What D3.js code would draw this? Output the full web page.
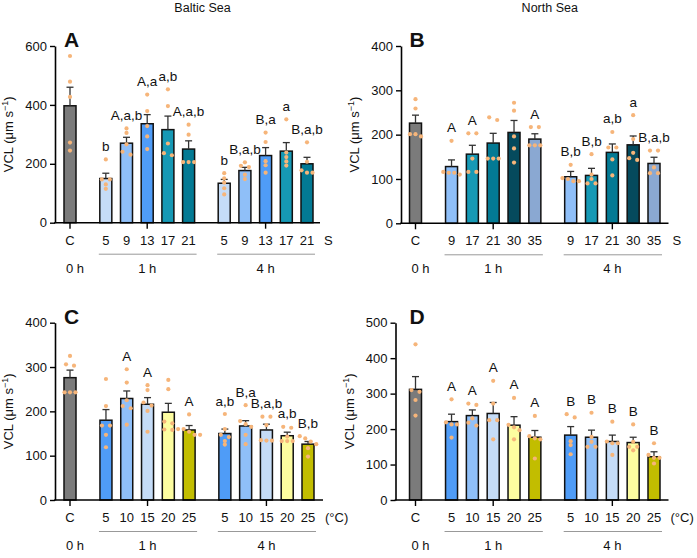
<!DOCTYPE html>
<html>
<head>
<meta charset="utf-8">
<script src="https://cdn.jsdelivr.net/npm/d3@7"></script>
<style>
  body { margin: 0; background: #fff; }
  svg { font-family: "Liberation Sans", Arial, sans-serif; }
</style>
</head>
<body>
<svg id="chart"></svg>
<script>
const width = 697, height = 558;

// categories
const catsBaltic = ["C", "5", "9", "13", "17", "21", "5", "9", "13", "17", "21"];
const catsNorth = ["C", "9", "17", "21", "30", "35", "9", "17", "21", "30", "35"];
const catsTemp = ["C", "5", "10", "15", "20", "25", "5", "10", "15", "20", "25"];
const groupLabels = ["0 h", "1 h", "4 h"];

// A - Baltic Sea, salinity
const meanA = [397, 150, 270, 336, 316, 250, 134, 177, 228, 243, 200];
const semA = [63, 18, 20, 31, 46, 28, 13, 11, 27, 29, 22];
const ptsA = [
  [566, 479, 427, 272, 245], [215, 147, 147, 130, 115], [320, 305, 266, 241, 231],
  [435, 379, 328, 293, 250], [453, 396, 269, 236, 229], [333, 299, 206, 206, 206],
  [168, 151, 136, 117, 96], [205, 193, 189, 163, 148], [306, 274, 209, 195, 170],
  [351, 238, 223, 208, 194], [273, 207, 178, 170, 170]
];
const letA = ["", "b", "A,a,b", "A,a", "a,b", "A,a,b", "b", "B,a,b", "B,a", "a", "B,a,b"];

// B - North Sea, salinity
const meanB = [226, 128, 156, 181, 205, 190, 105, 108, 160, 177, 135];
const semB = [18, 15, 20, 22, 27, 12, 12, 16, 19, 20, 14];
const ptsB = [
  [280, 259, 201, 201, 196], [186, 116, 114, 114, 110], [203, 203, 146, 116, 116],
  [239, 233, 146, 146, 146], [272, 254, 196, 169, 137], [217, 217, 176, 176, 176],
  [132, 102, 100, 95, 95], [156, 110, 100, 90, 90], [206, 171, 171, 144, 108],
  [244, 190, 159, 147, 143], [164, 164, 126, 113, 113]
];
const letB = ["", "A", "A", "", "", "A", "B,b", "B,b", "a,b", "a", "B,a,b"];

// C - Baltic Sea, temperature
const meanC = [276, 180, 229, 216, 198, 158, 150, 167, 158, 145, 126];
const semC = [17, 24, 17, 15, 20, 10, 10, 12, 13, 8, 6];
const ptsC = [
  [325, 306, 303, 243, 243, 243], [273, 212, 168, 168, 147, 119], [295, 265, 225, 212, 207, 170],
  [259, 248, 220, 213, 201, 154], [271, 250, 177, 173, 159, 158], [193, 160, 160, 154, 147, 147],
  [194, 160, 147, 142, 133, 125], [214, 178, 171, 165, 147, 126], [188, 188, 169, 135, 134, 134],
  [165, 163, 143, 133, 133, 133], [144, 139, 132, 126, 117, 98]
];
const letC = ["", "", "A", "A", "", "A", "a,b", "B,a", "B,a,b", "a,b", "B,b"];

// D - North Sea, temperature
const meanD = [312, 221, 238, 244, 211, 177, 183, 177, 165, 162, 122];
const semD = [36, 21, 16, 31, 24, 19, 24, 20, 18, 15, 14];
const ptsD = [
  [439, 310, 305, 282, 238], [284, 219, 213, 213, 176], [272, 268, 230, 218, 210],
  [336, 272, 225, 225, 171], [288, 212, 205, 197, 171], [237, 180, 174, 171, 117],
  [242, 233, 166, 155, 129], [246, 178, 164, 150, 150], [221, 165, 160, 160, 127],
  [213, 164, 150, 150, 140], [160, 127, 119, 119, 103]
];
const letD = ["", "A", "A", "A", "A", "A", "B", "B", "B", "B", "B"];

// bar colours
const grey = "#7b7b7b";
const colorsBaltic = [grey, "#c5dcf7", "#8fbff8", "#4f9cf7", "#1699b5", "#037a94",
  "#c5dcf7", "#8fbff8", "#4f9cf7", "#1699b5", "#037a94"];
const colorsNorth = [grey, "#8fbff8", "#1699b5", "#037a94", "#054a5d", "#8aa8d2",
  "#8fbff8", "#1699b5", "#037a94", "#054a5d", "#8aa8d2"];
const colorsTemp = [grey, "#4f9cf7", "#8fbff8", "#c5dcf7", "#fdfda0", "#c2bd00",
  "#4f9cf7", "#8fbff8", "#c5dcf7", "#fdfda0", "#c2bd00"];
const dotColor = "#f6b57a";

const panels = [
  { id: "A", cats: catsBaltic, colors: colorsBaltic, mean: meanA, sem: semA, pts: ptsA, letters: letA,
    max: 600, step: 200, unit: "S", title: "Baltic Sea", axisX: 55, x0: 70, x1: 307, xEnd: 320, yTop: 46, yBot: 222.7 },
  { id: "B", cats: catsNorth, colors: colorsNorth, mean: meanB, sem: semB, pts: ptsB, letters: letB,
    max: 400, step: 100, unit: "S", title: "North Sea", axisX: 401, x0: 415.5, x1: 654, xEnd: 668.5, yTop: 46, yBot: 223.3 },
  { id: "C", cats: catsTemp, colors: colorsTemp, mean: meanC, sem: semC, pts: ptsC, letters: letC,
    max: 400, step: 100, unit: "(°C)", axisX: 55, x0: 70, x1: 308, xEnd: 323, yTop: 322.7, yBot: 500 },
  { id: "D", cats: catsTemp, colors: colorsTemp, mean: meanD, sem: semD, pts: ptsD, letters: letD,
    max: 500, step: 100, unit: "(°C)", axisX: 395.5, x0: 415.5, x1: 654, xEnd: 668.5, yTop: 322.7, yBot: 500 }
];

const svg = d3.select("#chart")
    .attr("width", width)
    .attr("height", height);

// slot position of each bar: control, gap, 1 h group, gap, 4 h group
const slot = i => i === 0 ? 0 : (i <= 5 ? i + 0.73 : i + 1.45);
const barW = 12;

// spread dots with (almost) equal values sideways
function jitter(ys) {
  const order = d3.range(ys.length).sort((a, b) => ys[a] - ys[b]);
  const off = new Array(ys.length).fill(0);
  let cluster = [order[0]];
  const flush = () => {
    const n = cluster.length, s = n === 2 ? 8 : 5.5;
    cluster.forEach((k, j) => off[k] = (j - (n - 1) / 2) * s);
  };
  for (let j = 1; j < order.length; j++) {
    if (ys[order[j]] - ys[cluster[cluster.length - 1]] < 3.5) cluster.push(order[j]);
    else { flush(); cluster = [order[j]]; }
  }
  flush();
  return off;
}

panels.forEach(p => {
  const g = svg.append("g");
  const x = d3.scaleLinear().domain([0, slot(10)]).range([p.x0, p.x1]);
  const y = d3.scaleLinear().domain([0, p.max]).range([p.yBot, p.yTop]);

  // y axis
  const ax = g.append("g")
      .attr("transform", `translate(${p.axisX},0)`)
      .call(d3.axisLeft(y).tickValues(d3.range(0, p.max + 1, p.step)).tickSize(5).tickSizeOuter(0).tickPadding(3));
  ax.select(".domain").attr("stroke", "#000").attr("stroke-width", 1.6);
  ax.selectAll(".tick line").attr("stroke", "#000").attr("stroke-width", 1.4);
  ax.selectAll(".tick text").attr("font-size", 13).attr("fill", "#111")
      .attr("font-family", "Liberation Sans, Arial, sans-serif");

  // y title
  const yt = g.append("text")
      .attr("transform", `translate(${p.axisX - 42},${(p.yTop + p.yBot) / 2}) rotate(-90)`)
      .attr("text-anchor", "middle")
      .attr("font-size", 13)
      .attr("fill", "#111");
  yt.append("tspan").text("VCL (μm s");
  yt.append("tspan").text("−1").attr("font-size", 9).attr("dy", -5);
  yt.append("tspan").text(")").attr("dy", 5);

  // panel letter
  g.append("text")
      .attr("x", p.x0 - 6)
      .attr("y", p.yTop + 1)
      .attr("font-size", 21)
      .attr("font-weight", "bold")
      .attr("fill", "#111")
      .text(p.id);

  if (p.title) {
    g.append("text")
        .attr("x", (p.axisX + p.xEnd) / 2 + 15)
        .attr("y", 12)
        .attr("text-anchor", "middle")
        .attr("font-size", 12.5)
        .attr("fill", "#111")
        .text(p.title);
  }

  // bars
  g.selectAll("rect.bar")
    .data(p.mean)
    .join("rect")
      .attr("class", "bar")
      .attr("x", (d, i) => x(slot(i)) - barW / 2)
      .attr("y", d => y(d))
      .attr("width", barW)
      .attr("height", d => y(0) - y(d))
      .attr("fill", (d, i) => p.colors[i])
      .attr("stroke", "#111")
      .attr("stroke-width", 1.5);

  // error bars (upper)
  const err = g.selectAll("g.err")
    .data(p.mean)
    .join("g")
      .attr("class", "err")
      .attr("stroke", "#333")
      .attr("stroke-width", 1.3);
  err.append("line")
      .attr("x1", (d, i) => x(slot(i))).attr("x2", (d, i) => x(slot(i)))
      .attr("y1", d => y(d)).attr("y2", (d, i) => y(d + p.sem[i]));
  err.append("line")
      .attr("x1", (d, i) => x(slot(i)) - 3.5).attr("x2", (d, i) => x(slot(i)) + 3.5)
      .attr("y1", (d, i) => y(d + p.sem[i])).attr("y2", (d, i) => y(d + p.sem[i]));

  // individual points
  p.pts.forEach((vals, i) => {
    const off = jitter(vals.map(v => y(v)));
    g.selectAll(null)
      .data(vals)
      .join("circle")
        .attr("cx", (d, k) => x(slot(i)) + off[k])
        .attr("cy", d => y(d))
        .attr("r", 2.1)
        .attr("fill", dotColor);
  });

  // significance letters
  g.selectAll("text.sig")
    .data(p.letters)
    .join("text")
      .attr("class", "sig")
      .attr("x", (d, i) => x(slot(i)))
      .attr("y", (d, i) => y(Math.max(d3.max(p.pts[i]), p.mean[i] + p.sem[i])) - 8.5)
      .attr("text-anchor", "middle")
      .attr("font-size", 13.5)
      .attr("fill", "#111")
      .text(d => d);

  // x axis line and ticks
  const base = y(0);
  g.append("line")
      .attr("x1", p.axisX - 0.8).attr("x2", p.xEnd)
      .attr("y1", base).attr("y2", base)
      .attr("stroke", "#000").attr("stroke-width", 1.6);
  g.selectAll("line.xt")
    .data([0, 3, 8])
    .join("line")
      .attr("class", "xt")
      .attr("x1", d => x(slot(d))).attr("x2", d => x(slot(d)))
      .attr("y1", base).attr("y2", base + 6)
      .attr("stroke", "#000").attr("stroke-width", 1.4);

  // category labels
  g.selectAll("text.cat")
    .data(p.cats)
    .join("text")
      .attr("class", "cat")
      .attr("x", (d, i) => x(slot(i)))
      .attr("y", base + 22)
      .attr("text-anchor", "middle")
      .attr("font-size", 13)
      .attr("fill", "#111")
      .text(d => d);

  g.append("text")
      .attr("x", p.unit === "S" ? p.xEnd + 4 : p.xEnd + 2)
      .attr("y", base + 22)
      .attr("font-size", 13)
      .attr("fill", "#111")
      .text(p.unit);

  // group lines and labels
  const groups = [[1, 5], [6, 10]];
  g.selectAll("line.grp")
    .data(groups)
    .join("line")
      .attr("class", "grp")
      .attr("x1", d => x(slot(d[0])) - 7).attr("x2", d => x(slot(d[1])) + 8)
      .attr("y1", base + 31.5).attr("y2", base + 31.5)
      .attr("stroke", "#999").attr("stroke-width", 1);

  g.selectAll("text.grp")
    .data(groupLabels)
    .join("text")
      .attr("class", "grp")
      .attr("x", (d, i) => i === 0 ? x(slot(0)) + 5 : x((slot(groups[i - 1][0]) + slot(groups[i - 1][1])) / 2))
      .attr("y", base + 50)
      .attr("text-anchor", "middle")
      .attr("font-size", 13)
      .attr("fill", "#111")
      .text(d => d);
});
</script>
</body>
</html>
